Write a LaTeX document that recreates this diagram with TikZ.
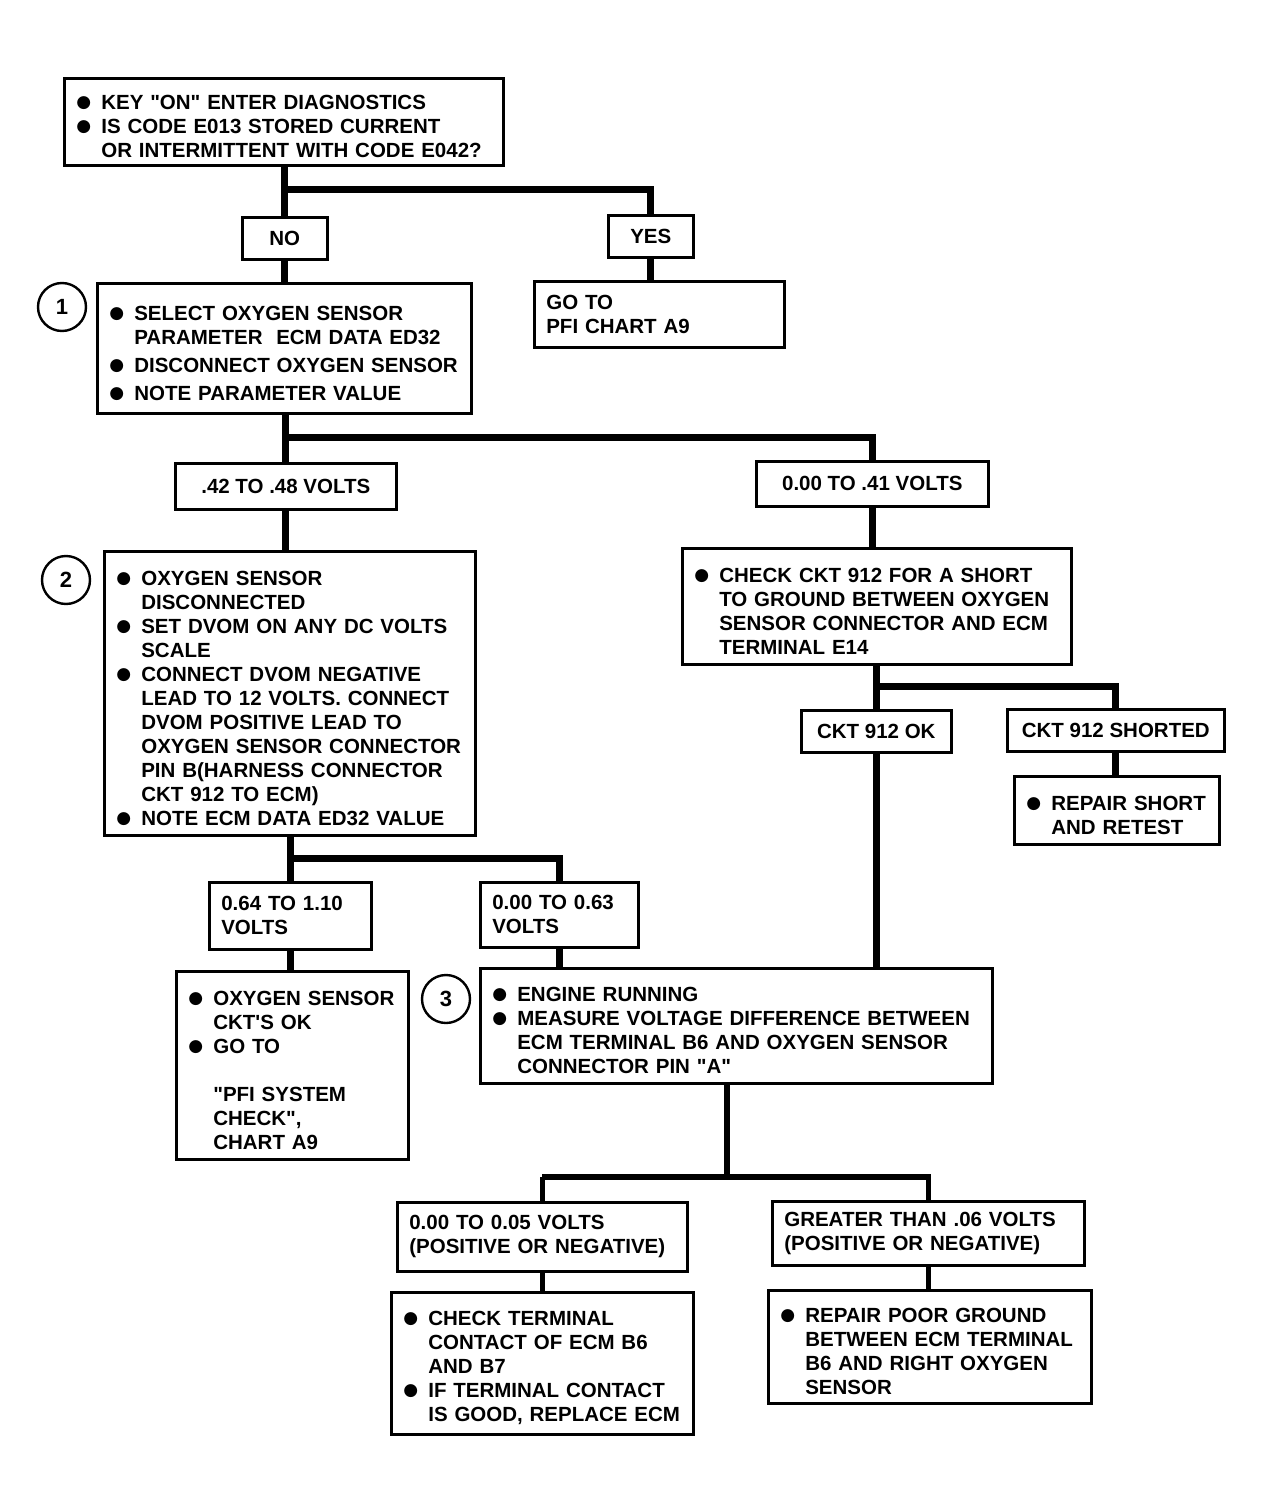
\documentclass[tikz,border=0pt]{standalone}
\usepackage{fontspec}
\newfontfamily\chartfont{Liberation Sans}
\newfontfamily\dotfont{DejaVu Sans}
\usetikzlibrary{positioning}
\hyphenpenalty=10000
\exhyphenpenalty=10000
\newcommand{\bul}{\makebox[25pt][l]{\raisebox{2pt}{\dotfont\fontsize{17}{17}\selectfont ●}}}
\newcommand{\itm}[1][0pt]{\par\vspace{#1}\rightskip=-10pt plus 1fil
  \hangindent=25pt\hangafter=1\noindent\bul}

\begin{document}
\begin{tikzpicture}[x=1pt,y=-1pt,
    base/.style={draw, line width=2.6pt, anchor=north west,
      font=\chartfont\fontsize{20.5}{24}\selectfont\bfseries},
    box/.style={base, inner xsep=12pt, align=left},
    lbl/.style={base, align=center},
    num/.style={draw, circle, line width=2.4pt, minimum size=48pt, inner sep=0pt,
      font=\chartfont\fontsize{22}{24}\selectfont\bfseries},
    link/.style={line width=7pt},
    link2/.style={line width=5.5pt}]
  \useasboundingbox (0,0) rectangle (1262,1511);

  \node [box, text width=415pt, minimum height=87pt] (start) at (63,77)
    {\itm KEY "ON" ENTER DIAGNOSTICS
     \itm IS CODE E013 STORED CURRENT\newline OR INTERMITTENT WITH CODE E042?\par};
  \node [lbl, minimum width=85pt, minimum height=42pt] (no) at (241,216) {NO};
  \node [lbl, minimum width=85pt, minimum height=42pt] (yes) at (607,214) {YES};
  \node [box, text width=350pt, minimum height=130pt] (step1) at (96,282)
    {\itm SELECT OXYGEN SENSOR\newline PARAMETER\ \ ECM DATA ED32
     \itm[4pt]DISCONNECT OXYGEN SENSOR
     \itm[4pt]NOTE PARAMETER VALUE\par\vspace{6pt}};
  \node [num] (n1) at (62,307) {1};
  \node [box, text width=226pt, minimum height=66pt] (goto) at (533,280)
    {GO TO\newline PFI CHART A9};

  \node [lbl, minimum width=221pt, minimum height=46pt] (v42) at (174,462) {.42 TO .48 VOLTS};
  \node [lbl, minimum width=232pt, minimum height=45pt] (v41) at (755,460) {0.00 TO .41 VOLTS};

  \node [box, text width=347pt, minimum height=284pt] (step2) at (103,550)
    {\itm OXYGEN SENSOR\newline DISCONNECTED
     \itm SET DVOM ON ANY DC VOLTS\newline SCALE
     \itm CONNECT DVOM NEGATIVE\newline LEAD TO 12 VOLTS. CONNECT\newline
       DVOM POSITIVE LEAD TO\newline OXYGEN SENSOR CONNECTOR\newline
       PIN B(HARNESS CONNECTOR\newline CKT 912 TO ECM)
     \itm NOTE ECM DATA ED32 VALUE\par};
  \node [num] (n2) at (66,580) {2};
  \node [box, text width=365pt, minimum height=116pt] (chk912) at (681,547)
    {\itm CHECK CKT 912 FOR A SHORT\newline TO GROUND BETWEEN OXYGEN\newline
       SENSOR CONNECTOR AND ECM\newline TERMINAL E14\par\vspace{4pt}};

  \node [lbl, minimum width=150pt, minimum height=42pt] (ok912) at (800,709) {CKT 912 OK};
  \node [lbl, minimum width=217pt, minimum height=42pt] (sh912) at (1006,708) {CKT 912 SHORTED};
  \node [box, text width=181pt, minimum height=68pt] (repair) at (1013,775)
    {\itm REPAIR SHORT\newline AND RETEST\par};

  \node [box, text width=138pt, minimum height=67pt] (v110) at (208,881)
    {0.64 TO 1.10\newline VOLTS};
  \node [box, text width=134pt, minimum height=65pt] (v063) at (479,881)
    {0.00 TO 0.63\newline VOLTS};
  \node [box, text width=208pt, minimum height=188pt] (sensok) at (175,970)
    {\itm OXYGEN SENSOR\newline CKT'S OK
     \itm GO TO\newline\mbox{}\newline "PFI SYSTEM\newline CHECK",\newline CHART A9\par};
  \node [box, text width=488pt, minimum height=115pt] (step3) at (479,967)
    {\itm ENGINE RUNNING
     \itm MEASURE VOLTAGE DIFFERENCE BETWEEN\newline ECM TERMINAL B6 AND OXYGEN SENSOR\newline
       CONNECTOR PIN "A"\par};
  \node [num] (n3) at (446,999) {3};

  \node [box, text width=266pt, minimum height=69pt] (v005) at (396,1201)
    {0.00 TO 0.05 VOLTS\newline (POSITIVE OR NEGATIVE)};
  \node [box, text width=288pt, minimum height=64pt] (v006) at (771,1200)
    {GREATER THAN .06 VOLTS\newline (POSITIVE OR NEGATIVE)};
  \node [box, text width=278pt, minimum height=142pt] (termchk) at (390,1291)
    {\itm CHECK TERMINAL\newline CONTACT OF ECM B6\newline AND B7
     \itm IF TERMINAL CONTACT\newline IS GOOD, REPLACE ECM\par};
  \node [box, text width=299pt, minimum height=113pt] (poorgnd) at (767,1289)
    {\itm REPAIR POOR GROUND\newline BETWEEN ECM TERMINAL\newline
       B6 AND RIGHT OXYGEN\newline SENSOR\par\vspace{4pt}};

  \coordinate (j1) at (0,190);
  \coordinate (j2) at (0,437);
  \coordinate (j3) at (0,686);
  \coordinate (j4) at (0,858);
  \coordinate (j5) at (727,1177);

  \draw [link] (no.north |- start.south) -- (no.north);
  \draw [link] (no.north |- j1) -| (yes.north);
  \draw [link] (no.south) -- (step1.north -| no.south);
  \draw [link] (yes.south) -- (goto.north -| yes.south);
  \draw [link] (v42.north |- step1.south) -- (v42.north);
  \draw [link] (v42.north |- j2) -| (v41.north);
  \draw [link] (v42.south) -- (step2.north -| v42.south);
  \draw [link] (v41.south) -- (chk912.north -| v41.south);
  \draw [link] (ok912.north |- chk912.south) -- (ok912.north);
  \draw [link] (ok912.north |- j3) -| (sh912.north);
  \draw [link] (sh912.south) -- (repair.north -| sh912.south);
  \draw [link] (ok912.south) -- (step3.north -| ok912.south);
  \draw [link] (v110.north |- step2.south) -- (v110.north);
  \draw [link] (v110.north |- j4) -| (v063.north);
  \draw [link] (v110.south) -- (sensok.north -| v110.south);
  \draw [link] (v063.south) -- (step3.north -| v063.south);
  \draw [link2] (step3.south -| j5) -- (j5);
  \draw [link2] (v005.north |- j5) -| (v006.north);
  \draw [link2] (v005.north |- j5) -- (v005.north);
  \draw [link2] (termchk.north -| v005.south) -- (v005.south);
  \draw [link2] (poorgnd.north -| v006.south) -- (v006.south);
\end{tikzpicture}
\end{document}
